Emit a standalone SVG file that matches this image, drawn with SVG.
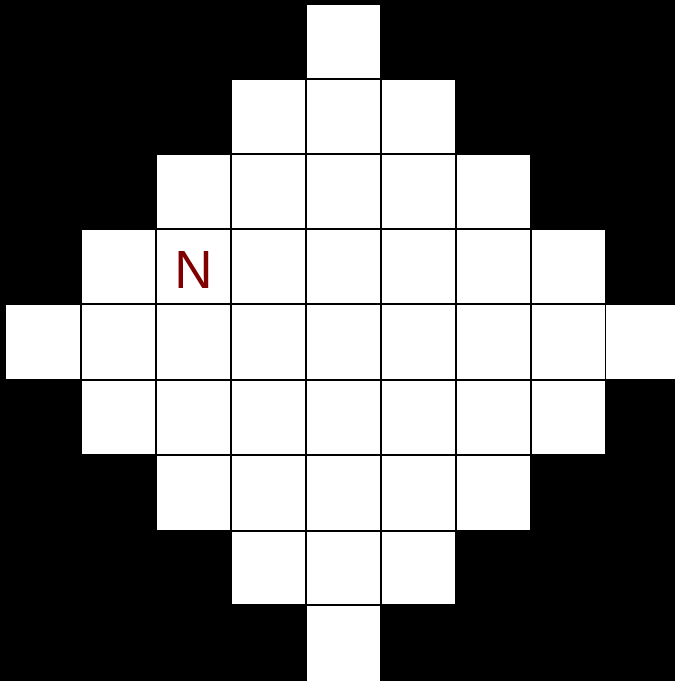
<svg xmlns="http://www.w3.org/2000/svg" width="675" height="681" viewBox="0 0 675 681">
<style>
.c{fill:#ffffff}
.lbl{font-family:"Liberation Sans",Arial,sans-serif;font-size:53px;fill:#800000;text-anchor:middle}
</style>
<rect x="0" y="0" width="675" height="681" fill="#000000"/>
<g id="cells">
<rect class="c" x="307" y="5" width="73" height="73"/>
<rect class="c" x="232" y="80" width="73" height="73"/>
<rect class="c" x="307" y="80" width="73" height="73"/>
<rect class="c" x="382" y="80" width="73" height="73"/>
<rect class="c" x="157" y="155" width="73" height="73"/>
<rect class="c" x="232" y="155" width="73" height="73"/>
<rect class="c" x="307" y="155" width="73" height="73"/>
<rect class="c" x="382" y="155" width="73" height="73"/>
<rect class="c" x="457" y="155" width="73" height="73"/>
<rect class="c" x="82" y="230" width="73" height="73"/>
<rect class="c" x="157" y="230" width="73" height="73"/>
<rect class="c" x="232" y="230" width="73" height="73"/>
<rect class="c" x="307" y="230" width="73" height="73"/>
<rect class="c" x="382" y="230" width="73" height="73"/>
<rect class="c" x="457" y="230" width="73" height="73"/>
<rect class="c" x="532" y="230" width="73" height="73"/>
<rect class="c" x="6" y="305" width="74" height="74"/>
<rect class="c" x="82" y="305" width="73" height="74"/>
<rect class="c" x="157" y="305" width="73" height="74"/>
<rect class="c" x="232" y="305" width="73" height="74"/>
<rect class="c" x="307" y="305" width="73" height="74"/>
<rect class="c" x="382" y="305" width="73" height="74"/>
<rect class="c" x="457" y="305" width="73" height="74"/>
<rect class="c" x="532" y="305" width="73" height="74"/>
<rect class="c" x="606" y="305" width="74" height="74"/>
<rect class="c" x="82" y="381" width="73" height="73"/>
<rect class="c" x="157" y="381" width="73" height="73"/>
<rect class="c" x="232" y="381" width="73" height="73"/>
<rect class="c" x="307" y="381" width="73" height="73"/>
<rect class="c" x="382" y="381" width="73" height="73"/>
<rect class="c" x="457" y="381" width="73" height="73"/>
<rect class="c" x="532" y="381" width="73" height="73"/>
<rect class="c" x="157" y="456" width="73" height="74"/>
<rect class="c" x="232" y="456" width="73" height="74"/>
<rect class="c" x="307" y="456" width="73" height="74"/>
<rect class="c" x="382" y="456" width="73" height="74"/>
<rect class="c" x="457" y="456" width="73" height="74"/>
<rect class="c" x="232" y="532" width="73" height="72"/>
<rect class="c" x="307" y="532" width="73" height="72"/>
<rect class="c" x="382" y="532" width="73" height="72"/>
<rect class="c" x="307" y="606" width="73" height="75"/>
</g>
<g id="label">
<text class="lbl" x="193.5" y="287.5">N</text>
</g>
</svg>
